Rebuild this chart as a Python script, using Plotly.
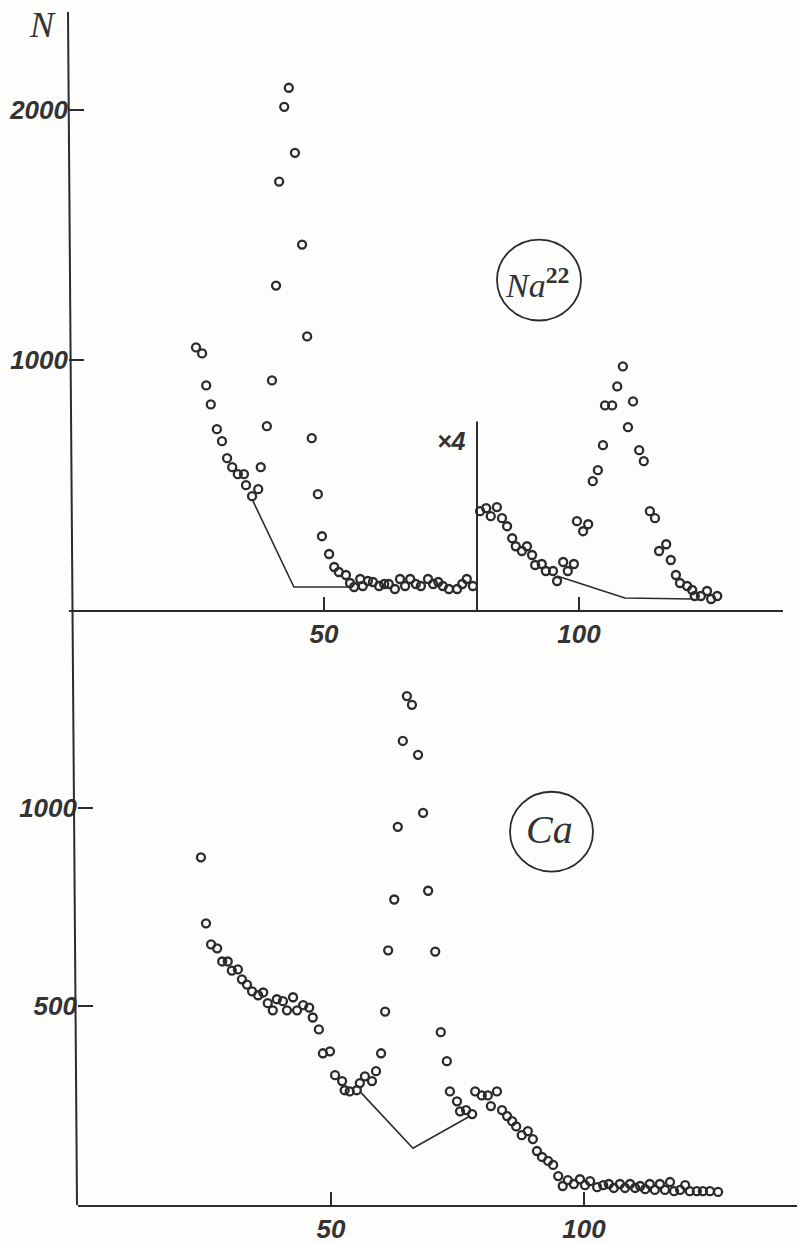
import plotly.graph_objects as go

# ---------------- data ----------------
# Na22, left part (channels, counts N)
na_ch = [24.9, 26.1, 26.9, 27.8, 29.0, 30.0, 31.0, 32.0, 33.1, 34.3, 34.7, 35.9, 37.1, 37.6,
         38.8, 39.8, 40.6, 41.2, 42.2, 43.1, 44.3, 45.7, 46.7, 47.6, 48.8, 49.6, 51.0,
         52.0, 52.9, 54.3, 55.1, 55.9, 57.1, 57.6, 58.6, 59.6, 60.8, 61.8, 62.7, 63.9, 64.9,
         65.9, 66.9, 68.0, 69.0, 70.4, 71.4, 72.4, 73.3, 74.5, 76.1, 77.1, 78.0, 79.2]
na_n = [1050, 1026, 898, 822, 723, 675, 607, 571, 543, 543, 499, 455, 483, 571,
        735, 918, 1297, 1713, 2012, 2088, 1828, 1461, 1094, 687, 463, 295, 224,
        172, 152, 140, 108, 92, 124, 96, 116, 112, 96, 104, 104, 84, 124,
        96, 124, 104, 96, 124, 104, 112, 96, 84, 84, 104, 124, 96]

# Na22, right part plotted x4
na4_ch = [80.6, 81.8, 82.7, 83.9, 84.9, 85.9, 86.9, 87.6, 88.8, 89.8, 90.8, 91.4, 92.7, 93.5,
          94.9, 95.7, 96.9, 97.8, 99.0, 99.6, 100.8, 101.8, 102.7, 103.7, 104.7, 105.1, 106.5,
          107.5, 108.6, 109.6, 110.6, 111.8, 112.7, 113.9, 114.9, 115.7, 117.1, 118.0, 119.0,
          119.8, 121.2, 122.2, 122.7, 123.9, 125.1, 125.9, 127.1]
na4_n = [395, 407, 375, 411, 367, 335, 287, 255, 236, 255, 220, 180, 184, 156,
         156, 116, 192, 156, 184, 355, 315, 343, 515, 559, 659, 818, 818,
         894, 974, 731, 834, 639, 595, 395, 367, 236, 263, 200, 140,
         108, 96, 80, 56, 56, 76, 44, 56]

# Na22 background lines
na_bg_ch = [35.9, 44.1, 55.0]
na_bg_n = [443, 92, 92]
na4_bg_ch = [95.7, 109.0, 122.4]
na4_bg_n = [136, 48, 44]
x4_ch = [80, 80]
x4_n = [0, 754]

# Ca
ca_ch = [24.3, 25.3, 26.3, 27.5, 28.5, 29.6, 30.4, 31.6, 32.4, 33.4, 34.4, 35.6, 36.6, 37.5,
         38.5, 39.3, 40.5, 41.3, 42.5, 43.3, 44.5, 45.7, 46.4, 47.6, 48.4, 49.8,
         50.8, 52.2, 52.7, 53.7, 55.1, 55.7, 56.7, 58.1, 58.9,
         59.9, 60.7, 61.3, 62.5, 63.2, 64.2, 65.0, 66.0, 67.2, 68.2, 69.2, 70.6, 71.7,
         72.9, 73.5, 74.9, 75.5, 76.7, 77.9,
         78.5, 79.8, 81.0, 81.6, 82.8, 83.8, 84.8, 85.8, 86.6, 87.7, 88.9, 89.9, 90.7,
         91.7, 92.9, 93.9, 94.9, 95.8, 96.8, 98.0, 99.2, 100.2, 101.2, 102.6, 103.8,
         104.9, 105.9, 107.1, 108.1, 109.1, 110.1, 111.1, 112.1, 113.0, 114.0, 115.0,
         116.0, 117.0, 117.8, 119.0, 120.0, 120.9, 122.3, 123.5, 124.9, 126.5]
ca_n = [875, 709, 656, 646, 613, 613, 590, 593, 568, 555, 538, 528, 535, 508,
        490, 518, 513, 490, 523, 490, 503, 497, 472, 442, 382, 387,
        327, 312, 289, 286, 289, 307, 324, 312, 337,
        382, 487, 641, 769, 952, 1168, 1281, 1259, 1133, 987, 791, 638, 435,
        362, 286, 261, 236, 239, 229,
        286, 276, 276, 249, 286, 239, 224, 211, 198, 176, 186, 166, 136,
        121, 111, 101, 73, 48, 63, 53, 65, 50, 60, 45, 50,
        53, 43, 53, 43, 53, 43, 48, 40, 53, 38, 53,
        38, 58, 35, 38, 50, 35, 35, 35, 35, 33]
ca_bg_ch = [55.7, 66.2, 77.5]
ca_bg_n = [286, 143, 224]

top_xticks = [50, 100]
top_yticks = [1000, 2000]
bot_xticks = [50, 100]
bot_yticks = [500, 1000]

# ---------------- figure ----------------
W, H = 799, 1244
INK = "#2b2b2b"

def px(x):
    return x / W

def py(y):
    return 1 - y / H

mk = dict(symbol="circle-open", size=8, color=INK, line=dict(width=2.3, color=INK))
ln = dict(color=INK, width=1.6)

fig = go.Figure()
fig.add_trace(go.Scatter(x=na_bg_ch, y=na_bg_n, mode="lines", line=ln, xaxis="x", yaxis="y"))
fig.add_trace(go.Scatter(x=na4_bg_ch, y=na4_bg_n, mode="lines", line=ln, xaxis="x", yaxis="y"))
fig.add_trace(go.Scatter(x=x4_ch, y=x4_n, mode="lines", line=dict(color=INK, width=2), xaxis="x", yaxis="y"))
fig.add_trace(go.Scatter(x=na_ch, y=na_n, mode="markers", marker=mk, xaxis="x", yaxis="y"))
fig.add_trace(go.Scatter(x=na4_ch, y=na4_n, mode="markers", marker=mk, xaxis="x", yaxis="y"))
fig.add_trace(go.Scatter(x=ca_bg_ch, y=ca_bg_n, mode="lines", line=ln, xaxis="x2", yaxis="y2"))
fig.add_trace(go.Scatter(x=ca_ch, y=ca_n, mode="markers", marker=mk, xaxis="x2", yaxis="y2"))

tickfont = dict(family="Liberation Sans Narrow, Liberation Sans, Arial", size=26,
                color="#333333", style="italic", weight="bold")

common_x = dict(showgrid=False, zeroline=False, showline=True, linecolor=INK, linewidth=2,
                ticks="inside", ticklen=13, tickwidth=2, tickcolor=INK, tickfont=tickfont)
common_y = dict(showgrid=False, zeroline=False, showline=False,
                ticks="inside", ticklen=15, tickwidth=2, tickcolor=INK, tickfont=tickfont)

fig.update_layout(
    width=W, height=H, showlegend=False,
    margin=dict(l=0, r=0, t=0, b=0),
    paper_bgcolor="#fdfdfc", plot_bgcolor="rgba(0,0,0,0)",
    xaxis=dict(domain=[px(69), px(783)], range=[0, 140], anchor="y",
               tickvals=top_xticks, ticktext=[str(v) for v in top_xticks], **common_x),
    yaxis=dict(domain=[py(611), py(12)], range=[0, 2391], anchor="x",
               tickvals=top_yticks, ticktext=[str(v) for v in top_yticks], **common_y),
    xaxis2=dict(domain=[px(78), px(797)], range=[0, 142.1], anchor="y2",
                tickvals=bot_xticks, ticktext=[str(v) for v in bot_xticks], **common_x),
    yaxis2=dict(domain=[py(1207), py(611)], range=[0, 1497.5], anchor="x2",
                tickvals=bot_yticks, ticktext=[str(v) for v in bot_yticks], **common_y),
)

# continuous (slightly tilted) ordinate line
fig.add_shape(type="line", xref="paper", yref="paper",
              x0=px(68), y0=py(12), x1=px(77), y1=py(1207),
              line=dict(color=INK, width=2))

# circled labels
fig.add_shape(type="circle", xref="paper", yref="paper",
              x0=px(497), x1=px(581), y0=py(321), y1=py(240),
              line=dict(color=INK, width=1.8))
fig.add_shape(type="circle", xref="paper", yref="paper",
              x0=px(510), x1=px(593), y0=py(873), y1=py(793),
              line=dict(color=INK, width=1.8))

serif = "Liberation Serif, DejaVu Serif, serif"
fig.add_annotation(xref="paper", yref="paper", x=px(537), y=py(283), showarrow=False,
                   xanchor="center", yanchor="middle",
                   text="<i>Na</i><sup><b>22</b></sup>",
                   font=dict(family=serif, size=34, color="#333333"))
fig.add_annotation(xref="paper", yref="paper", x=px(549), y=py(831), showarrow=False,
                   xanchor="center", yanchor="middle",
                   text="<i>Ca</i>",
                   font=dict(family=serif, size=40, color="#333333"))
fig.add_annotation(xref="paper", yref="paper", x=px(42), y=py(25), showarrow=False,
                   xanchor="center", yanchor="middle",
                   text="<i>N</i>",
                   font=dict(family=serif, size=36, color="#333333"))
fig.add_annotation(xref="paper", yref="paper", x=px(468), y=py(442), xanchor="right",
                   yanchor="middle", showarrow=False, text="<b>×4</b>",
                   font=dict(family="Liberation Sans, Arial", size=25,
                             color="#333333", style="italic"))

fig.write_html("out.html", config={"displayModeBar": False},
               post_script="document.body.style.margin='0px';")
